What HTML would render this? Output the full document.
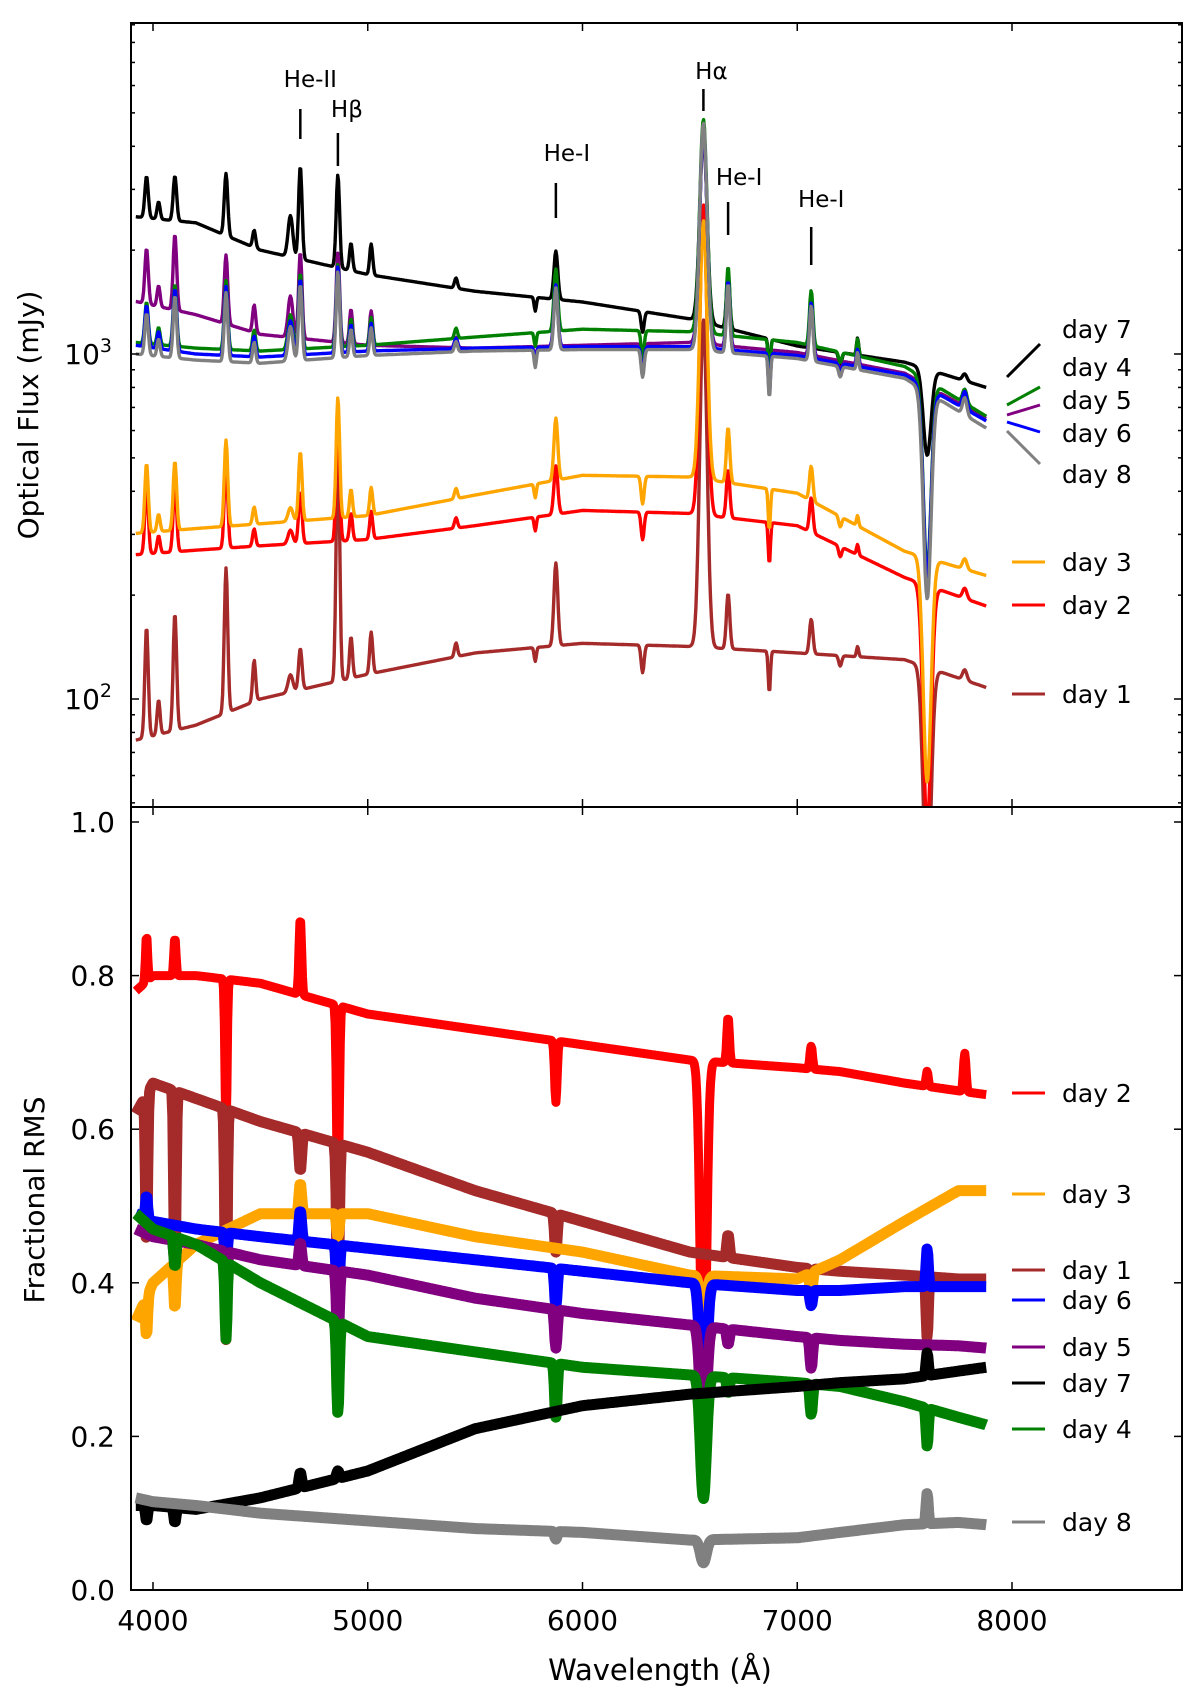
<!DOCTYPE html>
<html><head><meta charset="utf-8">
<style>
html,body{margin:0;padding:0;background:#fff;}
svg{display:block;font-family:"DejaVu Sans","Liberation Sans",sans-serif;}
</style></head>
<body>
<svg id="chart" width="1200" height="1702" viewBox="0 0 1200 1702" xmlns="http://www.w3.org/2000/svg">
<defs>
<clipPath id="clipTop"><rect x="131" y="23" width="1051" height="784"/></clipPath>
<clipPath id="clipBot"><rect x="131" y="807" width="1051" height="783"/></clipPath>
</defs>
<g id="topSeries" clip-path="url(#clipTop)"></g>
<g id="botSeries" clip-path="url(#clipBot)"></g>
<g id="axes"></g>
<text x="0" y="0" transform="translate(38,415) rotate(-90)" text-anchor="middle" font-size="28">Optical Flux (mJy)</text>
<text x="0" y="0" transform="translate(44,1200) rotate(-90)" text-anchor="middle" font-size="28">Fractional RMS</text>
<text x="660" y="1680" text-anchor="middle" font-size="29">Wavelength (Å)</text>
</svg>
<script>
// ---- data ----
const dayNames = ["day 1","day 2","day 3","day 4","day 5","day 6","day 7","day 8"];
const dayColors = ["#a52a2a","#ff0000","#ffa500","#008000","#800080","#0000ff","#000000","#808080"];
const contWaves = [3920,4200,4500,5000,5500,6000,6500,7000,7500,7880];
const flux1 = [76,84,100,118,136,145,142,136,130,108];
const flux2 = [262,270,278,290,318,352,345,318,225,186];
const flux3 = [302,312,322,340,390,445,440,395,268,228];
const flux4 = [1080,1040,1020,1060,1120,1180,1160,1080,920,660];
const flux5 = [1420,1300,1140,1060,1040,1060,1080,1010,880,650];
const flux6 = [1060,1000,980,1020,1040,1050,1050,990,870,640];
const flux7 = [2500,2400,2000,1700,1520,1415,1264,1055,947,800];
const flux8 = [1000,960,940,990,1020,1030,1030,970,850,610];
const fluxSeries = [flux1,flux2,flux3,flux4,flux5,flux6,flux7,flux8];
const lineWaves = [3970,4026,4102,4340,4471,4640,4686,4861,4922,5016,5411,5780,5876,6280,6563,6678,6870,7065,7200,7281,7605,7780];
const lineWidths= [8,7,8,8,7,11,8,8,7,7,7,5,9,7,17,8,5,8,7,5,18,10];
const lines1 = [0.32,0.1,0.34,0.42,0.12,0.05,0.12,0.72,0.12,0.12,0.04,-0.04,0.24,-0.08,0.95,0.16,-0.12,0.1,-0.03,0.03,-0.65,0.03];
const lines2 = [0.2,0.05,0.2,0.25,0.05,0.04,0.15,0.38,0.08,0.08,0.03,-0.04,0.14,-0.08,0.9,0.14,-0.12,0.1,-0.03,0.03,-0.7,0.03];
const lines3 = [0.2,0.05,0.2,0.25,0.05,0.04,0.2,0.35,0.08,0.08,0.03,-0.04,0.18,-0.08,0.75,0.16,-0.12,0.1,-0.03,0.03,-0.65,0.03];
const lines4 = [0.12,0.05,0.18,0.2,0.06,0.1,0.22,0.24,0.08,0.08,0.03,-0.04,0.18,-0.08,0.62,0.2,-0.12,0.16,-0.03,0.05,-0.55,0.04];
const lines5 = [0.16,0.06,0.22,0.2,0.08,0.12,0.25,0.26,0.1,0.1,0.03,-0.04,0.18,-0.08,0.62,0.2,-0.12,0.16,-0.03,0.05,-0.55,0.05];
const lines6 = [0.12,0.05,0.18,0.2,0.06,0.1,0.22,0.25,0.08,0.08,0.03,-0.05,0.18,-0.08,0.64,0.2,-0.12,0.16,-0.03,0.05,-0.55,0.05];
const lines7 = [0.12,0.05,0.13,0.18,0.05,0.12,0.27,0.27,0.08,0.09,0.03,-0.04,0.14,-0.06,0.54,0.16,-0.1,0.14,-0.04,0.05,-0.25,0.02];
const lines8 = [0.12,0.05,0.18,0.2,0.06,0.1,0.22,0.25,0.08,0.08,0.03,-0.05,0.18,-0.08,0.66,0.2,-0.12,0.16,-0.03,0.05,-0.6,0.05];
const lineSeries = [lines1,lines2,lines3,lines4,lines5,lines6,lines7,lines8];

const rmsWaves = [3920,4000,4200,4500,5000,5500,6000,6500,7000,7200,7500,7750,7880];
const rms1 = [0.62,0.66,0.64,0.61,0.57,0.52,0.48,0.44,0.42,0.415,0.41,0.405,0.405];
const rms2 = [0.78,0.80,0.80,0.79,0.75,0.73,0.71,0.69,0.68,0.675,0.66,0.65,0.645];
const rms3 = [0.35,0.40,0.45,0.49,0.49,0.46,0.44,0.41,0.405,0.43,0.48,0.52,0.52];
const rms4 = [0.49,0.47,0.45,0.40,0.33,0.31,0.29,0.28,0.27,0.265,0.245,0.225,0.215];
const rms5 = [0.47,0.46,0.45,0.43,0.41,0.38,0.36,0.345,0.33,0.325,0.32,0.318,0.315];
const rms6 = [0.49,0.48,0.47,0.46,0.445,0.43,0.415,0.40,0.39,0.39,0.395,0.395,0.395];
const rms7 = [0.11,0.11,0.105,0.12,0.155,0.21,0.24,0.255,0.265,0.27,0.275,0.285,0.29];
const rms8 = [0.12,0.115,0.11,0.10,0.09,0.08,0.075,0.065,0.068,0.075,0.085,0.088,0.085];
const rmsSeries = [rms1,rms2,rms3,rms4,rms5,rms6,rms7,rms8];
const rmsFeatWaves = [3970,4102,4340,4686,4861,5876,6563,6678,7065,7605,7780];
const rmsFeatWidths= [5,5,5,6,6,6,14,6,6,5,6];
const rmsF1 = [-0.2,-0.25,-0.3,-0.05,-0.2,-0.05,0,0.03,-0.03,-0.08,0];
const rmsF2 = [0.06,0.05,-0.2,0.1,-0.26,-0.08,-0.47,0.06,0.03,0.02,0.05];
const rmsF3 = [-0.05,-0.06,0,0.04,-0.03,0,-0.05,0,-0.03,0,0];
const rmsF4 = [0,-0.04,-0.1,0,-0.12,-0.07,-0.16,-0.02,-0.04,-0.05,0];
const rmsF5 = [0,-0.03,-0.06,0.03,-0.1,-0.05,-0.16,-0.02,-0.04,0,0];
const rmsF6 = [0.03,0,-0.06,0.04,-0.1,-0.05,-0.2,0,-0.02,0.05,0];
const rmsF7 = [-0.02,-0.02,0,0.02,0.01,0,0,0,0,0.03,0];
const rmsF8 = [0,0,0,0,0,-0.01,-0.03,0,0,0.04,0];
const rmsFeatSeries = [rmsF1,rmsF2,rmsF3,rmsF4,rmsF5,rmsF6,rmsF7,rmsF8];

const xTicks = [4000,5000,6000,7000,8000];
const rmsTicks = [0.0,0.2,0.4,0.6,0.8,1.0];
const annLabels = ["He-II","Hβ","He-I","Hα","He-I","He-I"];
const annWaves = [4686,4861,5876,6563,6678,7065];

// ---- scales ----
const X0=131,X1=1182,TOP=23,MID=807,BOT=1590;
function xs(w){return 153+(w-4000)*(1012-153)/4000;}
function yFlux(f){return 354-(Math.log10(f)-3)*345;}
function yRms(v){return 1590-v*768;}
const NS="http://www.w3.org/2000/svg";
function mk(tag,attrs,parent){const e=document.createElementNS(NS,tag);for(const k in attrs)e.setAttribute(k,attrs[k]);parent.appendChild(e);return e;}
function interp(ws,vs,w,log){let i=0;while(i<ws.length-2&&w>ws[i+1])i++;const t=(w-ws[i])/(ws[i+1]-ws[i]);if(log)return Math.pow(10,Math.log10(vs[i])+(Math.log10(vs[i+1])-Math.log10(vs[i]))*t);return vs[i]+(vs[i+1]-vs[i])*t;}

const topG=document.getElementById('topSeries');
const botG=document.getElementById('botSeries');
const axG=document.getElementById('axes');

const topOrder=[0,1,2,6,4,3,5,7];
topOrder.forEach(d=>{
  let pts=[];
  for(let w=3920;w<=7880;w+=4){
    let lf=Math.log10(interp(contWaves,fluxSeries[d],w,true));
    for(let k=0;k<lineWaves.length;k++){const z=(w-lineWaves[k])/lineWidths[k];if(Math.abs(z)<5)lf+=lineSeries[d][k]*Math.exp(-0.5*z*z);}
    pts.push(xs(w).toFixed(1)+','+yFlux(Math.pow(10,lf)).toFixed(1));
  }
  const p=mk('polyline',{points:pts.join(' '),fill:'none',stroke:dayColors[d],'stroke-width':3.4,'stroke-linejoin':'round'},topG);
  
  
});

const botOrder=[1,0,2,5,4,3,6,7];
botOrder.forEach(d=>{
  let pts=[];
  for(let w=3920;w<=7880;w+=4){
    let v=interp(rmsWaves,rmsSeries[d],w,false);
    for(let k=0;k<rmsFeatWaves.length;k++){const z=(w-rmsFeatWaves[k])/rmsFeatWidths[k];if(Math.abs(z)<5)v+=rmsFeatSeries[d][k]*Math.exp(-0.5*z*z);}
    pts.push(xs(w).toFixed(1)+','+yRms(v).toFixed(1));
  }
  const p=mk('polyline',{points:pts.join(' '),fill:'none',stroke:dayColors[d],'stroke-width':d===1?9:11,'stroke-linejoin':'round'},botG);
  
  
});

const f1=mk('rect',{x:X0,y:TOP,width:X1-X0,height:MID-TOP,fill:'none',stroke:'#000','stroke-width':2},axG);

const f2=mk('rect',{x:X0,y:MID,width:X1-X0,height:BOT-MID,fill:'none',stroke:'#000','stroke-width':2},axG);


xTicks.forEach(t=>{
  const x=xs(t);
  [[TOP,1],[MID,-1],[MID,1],[BOT,-1]].forEach(([y,s])=>{mk('line',{x1:x,x2:x,y1:y,y2:y+s*8,stroke:'#000','stroke-width':1.5},axG);});
  const tl=mk('text',{x:x,y:1630,'text-anchor':'middle','font-size':28},axG);tl.textContent=t;
  
});
for(let e=1;e<=3;e++){for(let m=1;m<=9;m++){const f=m*Math.pow(10,e);const y=yFlux(f);if(y<TOP+1||y>MID-1)continue;const L=m===1?8:4;
  mk('line',{x1:X0,x2:X0+L,y1:y,y2:y,stroke:'#000','stroke-width':1.5},axG);
  mk('line',{x1:X1,x2:X1-L,y1:y,y2:y,stroke:'#000','stroke-width':1.5},axG);
  if(m===1){const tl=mk('text',{x:112,y:y+10,'text-anchor':'end','font-size':28},axG);tl.textContent='10';const sp=mk('tspan',{dy:-12,'font-size':19},tl);sp.textContent=String(e);
    }
}}
rmsTicks.forEach(t=>{const y=yRms(t);
  mk('line',{x1:X0,x2:X0+8,y1:y,y2:y,stroke:'#000','stroke-width':1.5},axG);
  mk('line',{x1:X1,x2:X1-8,y1:y,y2:y,stroke:'#000','stroke-width':1.5},axG);
  const tl=mk('text',{x:115,y:y+10,'text-anchor':'end','font-size':28},axG);tl.textContent=t.toFixed(1);
  
});

const annTextY=[79,109,153,71,177,199];
const annTickY=[[109,139],[133,166],[183,218],[89,111],[202,235],[227,265]];
const annDx=[10,9,11,8,11,10];
annWaves.forEach((w,i)=>{const x=xs(w);
  const l=mk('line',{x1:x,x2:x,y1:annTickY[i][0],y2:annTickY[i][1],stroke:'#000','stroke-width':2.5},axG);
  
  const t=mk('text',{x:x+annDx[i],y:annTextY[i]+8,'text-anchor':'middle','font-size':23},axG);t.textContent=annLabels[i];
  
});

const topLeg=[[6,329,[1007,377,1040,344]],[3,367,[1007,405,1040,387]],[4,400,[1007,415,1040,405]],[5,433,[1007,422,1040,432]],[7,474,[1007,431,1040,464]],
  [2,562,null],[1,605,null],[0,694,null]];
topLeg.forEach(([d,y,seg])=>{
  const s=seg||[1012,y,1045,y];
  const l=mk('line',{x1:s[0],y1:s[1],x2:s[2],y2:s[3],stroke:dayColors[d],'stroke-width':3},axG);
  
  const t=mk('text',{x:1062,y:y+9,'font-size':25},axG);t.textContent=dayNames[d];
  
});
const botLeg=[[1,1093],[2,1194],[0,1270],[5,1300],[4,1347],[6,1383],[3,1429],[7,1522]];
botLeg.forEach(([d,y])=>{
  const l=mk('line',{x1:1012,y1:y,x2:1045,y2:y,stroke:dayColors[d],'stroke-width':3},axG);
  
  const t=mk('text',{x:1062,y:y+9,'font-size':25},axG);t.textContent=dayNames[d];
  
});
</script>
</body></html>
